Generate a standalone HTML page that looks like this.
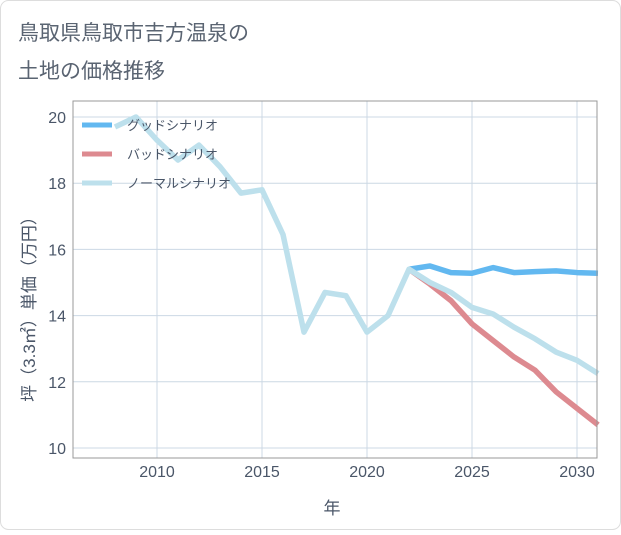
<!DOCTYPE html>
<html><head><meta charset="utf-8"><style>
body{margin:0;background:#fff;}
svg text{font-family:"Liberation Sans","Noto Sans CJK JP",sans-serif;}
</style></head><body>
<svg width="621" height="530" xmlns="http://www.w3.org/2000/svg">
<rect x="0.5" y="0.5" width="620" height="529" rx="8" fill="#fff" stroke="#ddd"/>
<text x="18" y="40" font-size="21" fill="#5a6472">鳥取県鳥取市吉方温泉の</text>
<text x="18" y="78" font-size="21" fill="#5a6472">土地の価格推移</text>
<g id="grid"></g>
<g id="series"></g>
<rect x="73" y="101" width="524" height="357" fill="none" stroke="#999"/>
<g id="axes"></g>
<text x="332" y="514" font-size="17" fill="#4a5668" text-anchor="middle">年</text>
<text transform="translate(35,305) rotate(-90)" font-size="17" fill="#4a5668" text-anchor="middle">坪（3.3㎡）単価（万円）</text>
<g id="legend"></g>
</svg>
<script>
const years=[2008,2009,2010,2011,2012,2013,2014,2015,2016,2017,2018,2019,2020,2021,2022,2023,2024,2025,2026,2027,2028,2029,2030,2031];
const normal=[19.7,20.0,19.3,18.7,19.15,18.5,17.7,17.8,16.45,13.5,14.7,14.6,13.5,14.0,15.4,15.0,14.7,14.25,14.05,13.65,13.3,12.9,12.65,12.25];
const futureYears=[2022,2023,2024,2025,2026,2027,2028,2029,2030,2031];
const good=[15.4,15.5,15.3,15.28,15.45,15.3,15.33,15.35,15.3,15.28];
const bad=[15.4,14.95,14.45,13.75,13.25,12.75,12.35,11.7,11.2,10.7];
const xTicks=[2010,2015,2020,2025,2030];
const yTicks=[10,12,14,16,18,20];
const NS="http://www.w3.org/2000/svg";
const X=y=>157+(y-2010)*21;
const Y=v=>448-(v-10)*33.1;
function mk(t,a,p){const e=document.createElementNS(NS,t);for(const k in a)e.setAttribute(k,a[k]);p.appendChild(e);return e;}
const grid=document.getElementById('grid'),axes=document.getElementById('axes'),ser=document.getElementById('series'),leg=document.getElementById('legend');
xTicks.forEach(t=>{const l=mk('line',{x1:X(t),x2:X(t),y1:101,y2:458,stroke:'#ccd8e4'},grid);


const tx=mk('text',{x:X(t),y:477,'font-size':16,fill:'#4a5668','text-anchor':'middle'},axes);tx.textContent=t;

});
yTicks.forEach(t=>{const l=mk('line',{x1:73,x2:597,y1:Y(t),y2:Y(t),stroke:'#ccd8e4'},grid);


const tx=mk('text',{x:66,y:Y(t)+6,'font-size':16,fill:'#4a5668','text-anchor':'end'},axes);tx.textContent=t;

});
function line(xs,vs,c,name){const p=mk('polyline',{points:xs.map((y,i)=>X(y)+','+Y(vs[i])).join(' '),fill:'none',stroke:c,'stroke-width':5.5,'stroke-linejoin':'round'},ser);

}
line(futureYears,good,'#62b8f0','good-scenario-line');
line(futureYears,bad,'#dd8a90','bad-scenario-line');
line(years,normal,'#bde0ec','normal-scenario-line');
[['グッドシナリオ','#62b8f0'],['バッドシナリオ','#dd8a90'],['ノーマルシナリオ','#bde0ec']].forEach((d,i)=>{const y=125+i*29;
const l=mk('line',{x1:82,x2:112,y1:y,y2:y,stroke:d[1],'stroke-width':5},leg);


const t=mk('text',{x:127,y:y+5,'font-size':13,fill:'#4a5668'},leg);t.textContent=d[0];

});
</script>
</body></html>
